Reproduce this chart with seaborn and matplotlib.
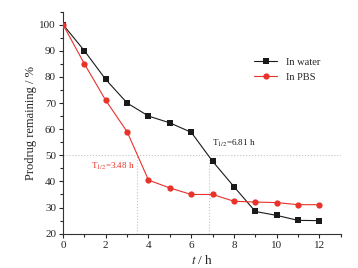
import matplotlib
matplotlib.use("Agg")
import matplotlib.pyplot as plt
import seaborn as sns
import pandas as pd
from matplotlib.ticker import MultipleLocator

# data
time_h = [0, 1, 2, 3, 4, 5, 6, 7, 8, 9, 10, 11, 12]
in_water = [100, 90, 79, 70, 65, 62.4, 58.8, 47.7, 38, 28.5, 27, 25.1, 25]
in_pbs = [100, 85, 71, 59, 40.5, 37.5, 35, 35, 32.4, 32.1, 31.9, 31.1, 31.1]
half_life = {"In water": 6.81, "In PBS": 3.48}

df = pd.DataFrame({"t": time_h * 2,
                   "remaining": in_water + in_pbs,
                   "medium": ["In water"] * len(time_h) + ["In PBS"] * len(time_h)})

sns.set_style("ticks")
plt.rcParams["font.family"] = ["Liberation Serif", "DejaVu Serif"]
plt.rcParams["mathtext.fontset"] = "stix"

fig = plt.figure(figsize=(3.58, 2.68), dpi=100)
ax = fig.add_axes([0.176, 0.128, 0.776, 0.829])

# guide lines
ax.axhline(50, color="#c4c4c4", ls=":", lw=0.8, zorder=1)
for v in half_life.values():
    ax.plot([v, v], [20, 50], color="#c4c4c4", ls=":", lw=0.8, zorder=1)

sns.lineplot(data=df, x="t", y="remaining", hue="medium", style="medium",
             palette={"In water": "#1a1a1a", "In PBS": "#e8322a"},
             markers={"In water": "s", "In PBS": "o"}, dashes=False,
             markersize=4.5, markeredgewidth=0, linewidth=0.8, ax=ax, zorder=3)

ax.text(1.3, 45.6, r"T$_{1/2}$=3.48 h", color="#e8322a", fontsize=6.5, va="center")
ax.text(6.96, 54.7, r"T$_{1/2}$=6.81 h", color="#1a1a1a", fontsize=6.5, va="center")

ax.set_xlim(0, 13)
ax.set_ylim(20, 105)
ax.xaxis.set_major_locator(MultipleLocator(2))
ax.xaxis.set_minor_locator(MultipleLocator(1))
ax.yaxis.set_major_locator(MultipleLocator(10))
ax.yaxis.set_minor_locator(MultipleLocator(5))
ax.set_xticks(range(0, 13, 2))
ax.tick_params(which="major", length=3, width=0.8, labelsize=8, pad=2)
ax.tick_params(which="minor", length=2, width=0.8)
sns.despine(ax=ax)
for s in ["left", "bottom"]:
    ax.spines[s].set_color("#333333")
    ax.spines[s].set_linewidth(0.8)

ax.set_xlabel(r"$\it{t}$ / h", fontsize=9.5, labelpad=3)
ax.set_ylabel("Prodrug remaining / %", fontsize=9, labelpad=2)

leg = ax.legend(title=None, loc="upper left", bbox_to_anchor=(0.655, 0.835),
                frameon=False, fontsize=7.5, handlelength=2.2, labelspacing=0.55)

fig.savefig("out.png", dpi=100)
